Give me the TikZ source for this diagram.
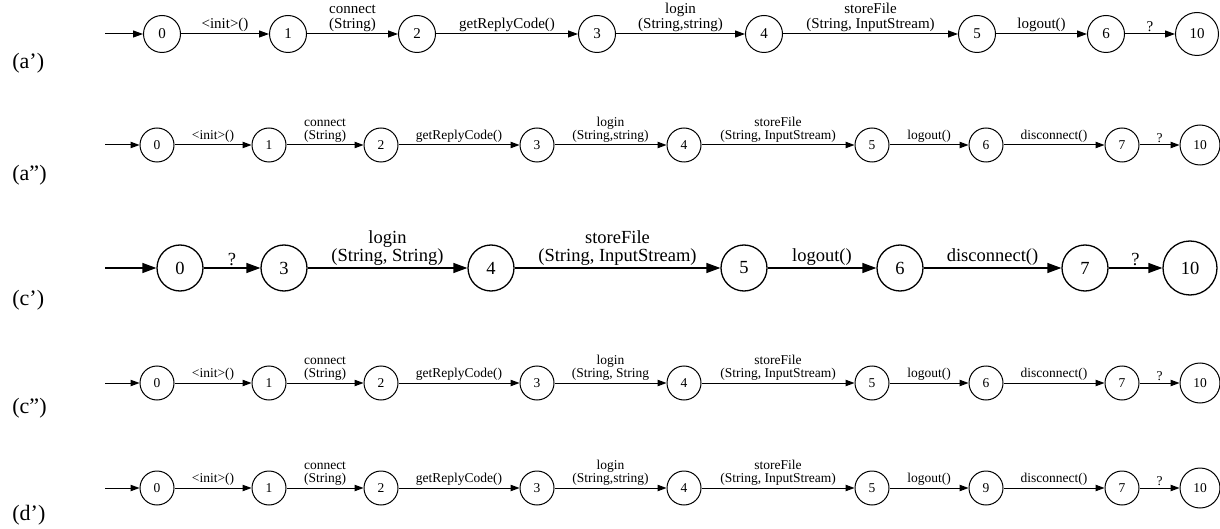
\documentclass[tikz,border=0pt]{standalone}
\usepackage{fontspec}
\setmainfont{Liberation Serif}
\usetikzlibrary{arrows.meta}

\begin{document}
\begin{tikzpicture}[
  x=0.5pt, y=-0.5pt,
  stA/.style={
    circle, draw, line width=0.5pt,
    inner sep=0pt, minimum size=18.5pt,
    font=\fontsize{7.5}{7.5}\selectfont
  },
  stAw/.style={stA, minimum size=21.5pt},
  stB/.style={
    circle, draw, line width=0.5pt,
    inner sep=0pt, minimum size=17pt,
    font=\fontsize{6.75}{6.75}\selectfont
  },
  stBw/.style={stB, minimum size=20pt},
  stC/.style={
    circle, draw, line width=0.65pt,
    inner sep=0pt, minimum size=23pt,
    font=\fontsize{9.25}{9.25}\selectfont
  },
  stCw/.style={stC, minimum size=27pt},
  tipA/.style={line width=0.5pt, -{Triangle[length=5pt, width=3.5pt]}},
  tipB/.style={line width=0.5pt, -{Triangle[length=4.5pt, width=3.2pt]}},
  tipC/.style={line width=0.65pt, -{Triangle[length=7pt, width=5pt]}},
  lblA/.style={above, align=center, inner sep=1pt, font=\fontsize{7.5}{7.5}\selectfont},
  lblB/.style={above, align=center, inner sep=1pt, font=\fontsize{6.75}{6.75}\selectfont},
  lblC/.style={above, align=center, inner sep=1pt, font=\fontsize{9.25}{8.75}\selectfont},
  rowlbl/.style={anchor=west, inner sep=0pt, font=\fontsize{11}{11}\selectfont}
]
  \useasboundingbox (0,0) rectangle (1220,529);

  % (a')
  \node[rowlbl] (la) at (12,63){(a’)};
  \coordinate (sa) at (105,34);
  \foreach \n/\x in {0/162,1/288,2/417,3/597,4/764,5/977,6/1106} {
    \node[stA] (a\n) at (\x,34){\n};
  }
  \node[stAw] (a10) at (1197,34){10};
  \draw[tipA] (sa)--(a0);
  \draw[tipA] (a0)--(a1) node[midway, lblA]{<init>()};
  \draw[tipA] (a1)--(a2) node[midway, lblA]{connect\\(String)};
  \draw[tipA] (a2)--(a3) node[midway, lblA]{getReplyCode()};
  \draw[tipA] (a3)--(a4) node[midway, lblA]{login\\(String,string)};
  \draw[tipA] (a4)--(a5) node[midway, lblA]{storeFile\\(String, InputStream)};
  \draw[tipA] (a5)--(a6) node[midway, lblA]{logout()};
  \draw[tipA] (a6)--(a10) node[midway, lblA]{?};

  % (a'')
  \node[rowlbl] (lb) at (12,175){(a”)};
  \coordinate (sb) at (105,145);
  \foreach \n/\x in {0/157,1/269,2/381,3/537,4/684,5/872,6/986,7/1122} {
    \node[stB] (b\n) at (\x,145){\n};
  }
  \node[stBw] (b10) at (1200,145){10};
  \draw[tipB] (sb)--(b0);
  \draw[tipB] (b0)--(b1) node[midway, lblB]{<init>()};
  \draw[tipB] (b1)--(b2) node[midway, lblB]{connect\\(String)};
  \draw[tipB] (b2)--(b3) node[midway, lblB]{getReplyCode()};
  \draw[tipB] (b3)--(b4) node[midway, lblB]{login\\(String,string)};
  \draw[tipB] (b4)--(b5) node[midway, lblB]{storeFile\\(String, InputStream)};
  \draw[tipB] (b5)--(b6) node[midway, lblB]{logout()};
  \draw[tipB] (b6)--(b7) node[midway, lblB]{disconnect()};
  \draw[tipB] (b7)--(b10) node[midway, lblB]{?};

  % (c')
  \node[rowlbl] (lc) at (12,300){(c’)};
  \coordinate (sc) at (105,268);
  \foreach \n/\x in {0/180,3/284,4/491,5/744,6/900,7/1085} {
    \node[stC] (c\n) at (\x,268){\n};
  }
  \node[stCw] (c10) at (1190,268){10};
  \draw[tipC] (sc)--(c0);
  \draw[tipC] (c0)--(c3) node[midway, lblC]{?};
  \draw[tipC] (c3)--(c4) node[midway, lblC]{login\\(String, String)};
  \draw[tipC] (c4)--(c5) node[midway, lblC]{storeFile\\(String, InputStream)};
  \draw[tipC] (c5)--(c6) node[midway, lblC]{logout()};
  \draw[tipC] (c6)--(c7) node[midway, lblC]{disconnect()};
  \draw[tipC] (c7)--(c10) node[midway, lblC]{?};

  % (c'')
  \node[rowlbl] (ld) at (12,408){(c”)};
  \coordinate (sd) at (105,383);
  \foreach \n/\x in {0/157,1/269,2/381,3/537,4/684,5/872,6/986,7/1122} {
    \node[stB] (d\n) at (\x,383){\n};
  }
  \node[stBw] (d10) at (1200,383){10};
  \draw[tipB] (sd)--(d0);
  \draw[tipB] (d0)--(d1) node[midway, lblB]{<init>()};
  \draw[tipB] (d1)--(d2) node[midway, lblB]{connect\\(String)};
  \draw[tipB] (d2)--(d3) node[midway, lblB]{getReplyCode()};
  \draw[tipB] (d3)--(d4) node[midway, lblB]{login\\(String, String};
  \draw[tipB] (d4)--(d5) node[midway, lblB]{storeFile\\(String, InputStream)};
  \draw[tipB] (d5)--(d6) node[midway, lblB]{logout()};
  \draw[tipB] (d6)--(d7) node[midway, lblB]{disconnect()};
  \draw[tipB] (d7)--(d10) node[midway, lblB]{?};

  % (d')
  \node[rowlbl] (le) at (12,515){(d’)};
  \coordinate (se) at (105,488);
  \foreach \n/\x in {0/157,1/269,2/381,3/537,4/684,5/872,9/986,7/1122} {
    \node[stB] (e\n) at (\x,488){\n};
  }
  \node[stBw] (e10) at (1200,488){10};
  \draw[tipB] (se)--(e0);
  \draw[tipB] (e0)--(e1) node[midway, lblB]{<init>()};
  \draw[tipB] (e1)--(e2) node[midway, lblB]{connect\\(String)};
  \draw[tipB] (e2)--(e3) node[midway, lblB]{getReplyCode()};
  \draw[tipB] (e3)--(e4) node[midway, lblB]{login\\(String,string)};
  \draw[tipB] (e4)--(e5) node[midway, lblB]{storeFile\\(String, InputStream)};
  \draw[tipB] (e5)--(e9) node[midway, lblB]{logout()};
  \draw[tipB] (e9)--(e7) node[midway, lblB]{disconnect()};
  \draw[tipB] (e7)--(e10) node[midway, lblB]{?};
\end{tikzpicture}
\end{document}
